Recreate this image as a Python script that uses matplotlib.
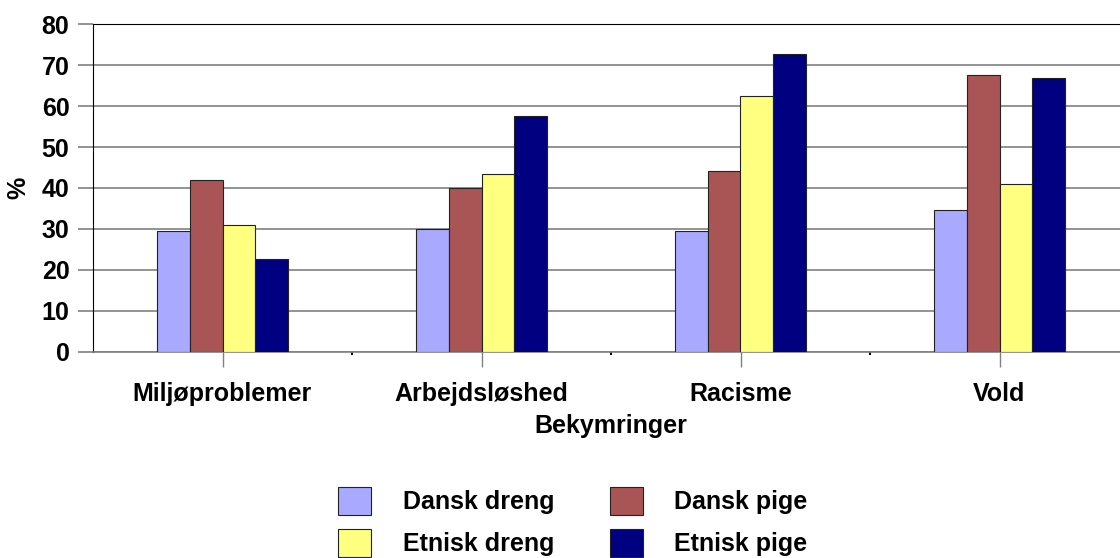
import matplotlib
matplotlib.use("Agg")
import matplotlib.pyplot as plt
import numpy as np

categories = ["Miljøproblemer", "Arbejdsløshed", "Racisme", "Vold"]
series_names = ["Dansk dreng", "Dansk pige", "Etnisk dreng", "Etnisk pige"]
dansk_dreng = [29.4, 30.0, 29.5, 34.5]
dansk_pige = [42.0, 40.0, 44.1, 67.5]
etnisk_dreng = [30.9, 43.5, 62.5, 40.9]
etnisk_pige = [22.7, 57.7, 72.7, 66.8]
colors = ["#A9A9FF", "#AA5555", "#FFFF80", "#000080"]

plt.rcParams["font.family"] = ["Liberation Sans", "DejaVu Sans"]
plt.rcParams["font.weight"] = "bold"
plt.rcParams["axes.labelweight"] = "bold"

fig = plt.figure(figsize=(11.2, 5.58), dpi=100)
ax = fig.add_axes([93 / 1120, 1 - 351.5 / 558, 1036 / 1120, 327.2 / 558])

x = np.arange(len(categories))
width = 0.1255
values = [dansk_dreng, dansk_pige, etnisk_dreng, etnisk_pige]
handles = []
for i, (name, vals, col) in enumerate(zip(series_names, values, colors)):
    b = ax.bar(x + (i - 1.5) * width, vals, width, color=col, edgecolor="#222222",
               linewidth=0.8, label=name, zorder=3)
    handles.append(b)

ax.set_xlim(-0.5, 3.5)
ax.set_ylim(0, 80)
ax.set_yticks(range(0, 81, 10))
ax.yaxis.grid(True, color="#808080", linewidth=1.2, zorder=0)
ax.set_axisbelow(True)

ax.spines["right"].set_visible(False)
ax.spines["top"].set_color("black")
ax.spines["left"].set_color("black")
ax.spines["bottom"].set_color("#808080")
ax.spines["bottom"].set_linewidth(1.2)

ax.set_xticks(x)
ax.set_xticklabels(categories)
ax.set_xticks(np.arange(0.5, 3.5, 1.0), minor=True)
ax.tick_params(axis="x", which="major", length=11, color="#808080", width=1, pad=11, labelsize=18)
ax.tick_params(axis="x", which="minor", length=2, color="black", width=1.5)
ax.tick_params(axis="y", length=11, color="#808080", width=1.2, pad=6, labelsize=18)

ax.set_xlabel("Bekymringer", fontsize=18, labelpad=6)
ax.set_ylabel("%", fontsize=18, labelpad=8)

order = [0, 2, 1, 3]
fig.legend([handles[i] for i in order], [series_names[i] for i in order],
           ncol=2, loc="upper left", bbox_to_anchor=(338 / 1120, 1 - 487 / 558),
           frameon=False, fontsize=18, handlelength=1.32, handleheight=1.32,
           handletextpad=1.28, columnspacing=2.2, labelspacing=0.58, borderpad=0,
           borderaxespad=0)

fig.savefig("out.png", dpi=100)
